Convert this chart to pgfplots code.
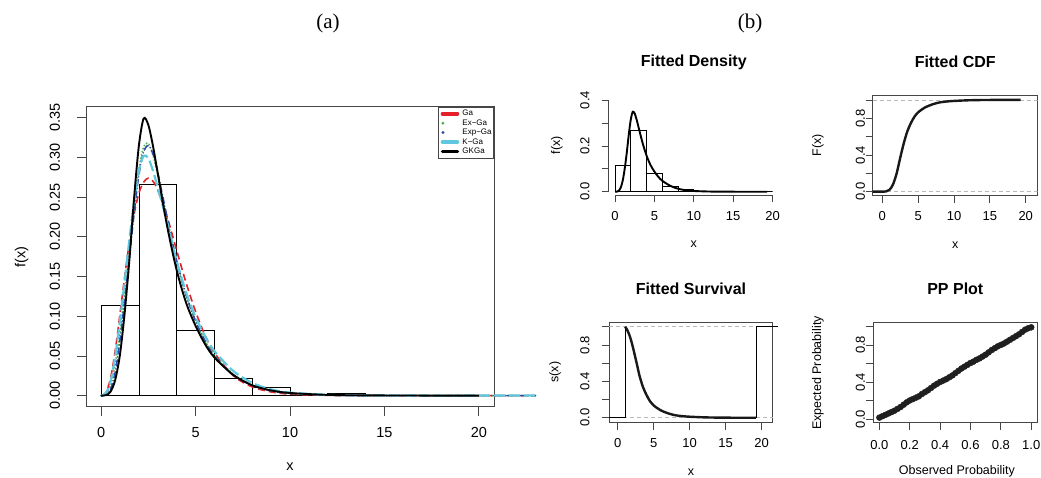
\documentclass[border=0pt]{standalone}
\usepackage{pgfplots}
\usepackage{pgfplotstable}
\pgfplotsset{compat=1.18}
\usepackage{fontspec}
\setmainfont{Liberation Sans}
\newfontfamily\seriffont{Liberation Serif}
\definecolor{cRed}{RGB}{228,32,42}
\definecolor{cGreen}{RGB}{70,178,70}
\definecolor{cBlue}{RGB}{45,75,165}
\definecolor{cCyan}{RGB}{95,200,222}
\definecolor{axgray}{RGB}{70,70,70}
\newcommand\fa{\fontsize{14.5}{17}\selectfont}
\newcommand\fb{\fontsize{13}{15}\selectfont}
\newcommand\fl{\fontsize{12.5}{15}\selectfont}
\newcommand\ft{\fontsize{16}{19}\selectfont\bfseries}

\pgfplotstableread{
x y
0 0.1143
2 0.2665
4 0.0818
6 0.0223
8 0.0105
10 0.0000
12 0.0034
14 0.0000
16 0.0000
18 0.0000
20 0.0000
}\histdata

\pgfplotstableread{
x ga exga expga kga gkga
0 0 0 0 0 0
0.25 0.0035 0.002 0.001 0.003 0.0005
0.5 0.022 0.013 0.008 0.018 0.005
0.75 0.057 0.040 0.030 0.050 0.020
1 0.103 0.080 0.070 0.095 0.052
1.25 0.150 0.130 0.120 0.145 0.105
1.5 0.194 0.182 0.175 0.197 0.172
1.75 0.229 0.236 0.230 0.245 0.250
2 0.255 0.285 0.278 0.283 0.315
2.25 0.269 0.313 0.307 0.302 0.349
2.5 0.274 0.318 0.315 0.299 0.341
2.75 0.270 0.303 0.304 0.283 0.314
3 0.259 0.278 0.281 0.262 0.280
3.5 0.225 0.220 0.224 0.218 0.213
4 0.183 0.168 0.170 0.170 0.158
4.5 0.142 0.126 0.127 0.130 0.117
5 0.106 0.094 0.094 0.099 0.088
5.5 0.076 0.069 0.069 0.075 0.065
6 0.054 0.051 0.050 0.056 0.048
7 0.025 0.027 0.026 0.031 0.026
8 0.011 0.013 0.013 0.016 0.013
9 0.0046 0.0062 0.006 0.0078 0.0065
10 0.0018 0.0029 0.0028 0.0038 0.0033
12 0.0003 0.0006 0.0006 0.0009 0.0009
14 0.00004 0.0001 0.0001 0.0002 0.0003
17 0 0 0 0 0.00005
19.3 0 0 0 0 0
20 0 0 0 0 0
23 0 0 0 0 0
}\densdata

\pgfplotstableread{
x F
-1.34 0
0 0
0.5 0.002
1 0.02
1.5 0.08
2 0.20
2.5 0.37
3 0.53
3.5 0.66
4 0.75
4.5 0.82
5 0.865
5.5 0.895
6 0.92
7 0.952
8 0.973
9 0.983
10 0.989
12 0.996
14 0.999
16 1.0
19.3 1.0
}\cdfdata

\pgfplotstableread{
x S
1.02 1.0
1.25 0.975
1.5 0.934
1.75 0.88
2 0.81
2.25 0.73
2.5 0.645
2.75 0.56
3 0.47
3.5 0.34
4 0.25
4.5 0.18
5 0.135
5.5 0.105
6 0.08
7 0.048
8 0.027
9 0.017
10 0.011
12 0.004
14 0.001
16 0.0
19.2 0.0
}\survdata

\pgfplotstableread{
x y
0.00 0.015
0.02 0.03
0.04 0.045
0.06 0.06
0.08 0.075
0.10 0.09
0.12 0.11
0.14 0.13
0.16 0.155
0.18 0.18
0.20 0.20
0.22 0.215
0.24 0.23
0.26 0.245
0.28 0.27
0.30 0.29
0.32 0.31
0.34 0.335
0.36 0.36
0.38 0.38
0.40 0.40
0.42 0.415
0.44 0.43
0.46 0.45
0.48 0.47
0.50 0.495
0.52 0.52
0.54 0.545
0.56 0.565
0.58 0.585
0.60 0.605
0.62 0.62
0.64 0.64
0.66 0.655
0.68 0.675
0.70 0.695
0.72 0.72
0.74 0.745
0.76 0.765
0.78 0.785
0.80 0.80
0.82 0.815
0.84 0.835
0.86 0.855
0.88 0.875
0.90 0.895
0.92 0.915
0.94 0.94
0.96 0.965
0.98 0.98
1.00 0.99
}\ppdata

\pgfplotsset{
  rstyle/.style={
    scale only axis,
    axis line style={axgray, line width=0.8pt},
    tick style={axgray, line width=0.8pt},
    tick align=outside,
    major tick length=8pt,
    tick pos=left,
    /pgf/number format/assume math mode=true,
    xlabel style={anchor=center},
    ylabel style={anchor=center},
    title style={anchor=center, font=\ft},
  },
  smallstyle/.style={
    rstyle,
    ticklabel style={font=\fb},
    label style={font=\fl},
    major tick length=7pt,
  },
}

\begin{document}
\begin{tikzpicture}
\useasboundingbox (0,0) rectangle (1041pt,-477pt);
\node[font=\seriffont\fontsize{21}{24}\selectfont] at (328pt,-23pt) {(a)};
\node[font=\seriffont\fontsize{21}{24}\selectfont] at (750pt,-23pt) {(b)};

% ---------- panel (a)
\begin{axis}[rstyle,
  at={(86pt,-406.7pt)}, anchor=south west,
  width=408pt, height=300pt,
  xmin=-0.8, xmax=20.8, ymin=-0.014, ymax=0.364,
  clip=false,
  major tick length=9pt,
  xtick={0,5,10,15,20},
  ytick={0,0.05,0.1,0.15,0.2,0.25,0.3,0.35},
  yticklabels={0.00,0.05,0.10,0.15,0.20,0.25,0.30,0.35},
  ticklabel style={font=\fa},
  xticklabel style={anchor=center, yshift=-17.3pt},
  yticklabel style={xshift=-22pt, rotate=90, anchor=center},
  xlabel={x}, ylabel={f(x)},
  label style={font=\fa},
  xlabel style={at={(axis description cs:0.5,-0.201)}},
  ylabel style={at={(axis description cs:-0.1576,0.5)}},
  legend style={at={(rel axis cs:1,1)}, anchor=north east, draw=axgray, line width=0.8pt,
    font=\fontsize{8}{8}\selectfont, inner xsep=2pt, inner ysep=2.5pt,
    row sep=1.1pt, /tikz/column sep=3pt,
    nodes={inner sep=0pt, text height=6.2pt, text depth=2.1pt}},
  legend cell align=left,
]
\addplot[ybar interval, draw=black, fill=none, line width=0.7pt, forget plot] table {\histdata};
\addplot[cRed, line width=1.6pt, dash pattern=on 7pt off 4pt, smooth,
  legend image code/.code={\path[draw=none] (0pt,0pt) -- (19pt,0pt); \draw[solid, cRed, line width=3.5pt, line cap=round] (2pt,0pt) -- (17pt,0pt);}]
  table[x=x, y=ga] {\densdata};
\addlegendentry{Ga}
\addplot[cGreen, line width=2pt, dash pattern=on 0.1pt off 3.2pt, line cap=round, smooth,
  legend image code/.code={\path[draw=none] (0pt,0pt) -- (19pt,0pt); \fill[draw=none, solid, cGreen] (2.5pt,0pt) circle (1.6pt);}]
  table[x=x, y=exga] {\densdata};
\addlegendentry{Ex−Ga}
\addplot[cBlue, line width=1.6pt, dash pattern=on 6pt off 3pt on 0.1pt off 3pt, line cap=round, smooth,
  legend image code/.code={\path[draw=none] (0pt,0pt) -- (19pt,0pt); \fill[draw=none, solid, cBlue] (2.5pt,0pt) circle (1.6pt);}]
  table[x=x, y=expga] {\densdata};
\addlegendentry{Exp−Ga}
\addplot[cCyan, line width=2.2pt, dash pattern=on 11pt off 4pt, smooth,
  legend image code/.code={\path[draw=none] (0pt,0pt) -- (19pt,0pt); \draw[solid, cCyan, line width=3.5pt, line cap=round] (2pt,0pt) -- (17pt,0pt);}]
  table[x=x, y=kga] {\densdata};
\addlegendentry{K−Ga}
\addplot[black, line width=1.9pt, smooth, restrict x to domain=0:20,
  legend image code/.code={\path[draw=none] (0pt,0pt) -- (19pt,0pt); \draw[solid, black, line width=3.5pt, line cap=round] (2pt,0pt) -- (17pt,0pt);}]
  table[x=x, y=gkga] {\densdata};
\addlegendentry{GKGa}
\end{axis}

% ---------- Fitted Density
\begin{axis}[smallstyle,
  at={(608.7pt,-195.4pt)}, anchor=south west,
  width=170.2pt, height=99pt,
  xmin=-0.8, xmax=20.8, ymin=-0.016, ymax=0.416,
  clip=false, axis line style={draw=none},
  xtick={0,5,10,15,20},
  ytick={0,0.1,0.2,0.3,0.4}, yticklabels={0.0,,0.2,,0.4},
  xticklabel style={anchor=center, yshift=-13.6pt},
  yticklabel style={xshift=-16.7pt, rotate=90, anchor=center},
  title={Fitted Density}, title style={at={(axis description cs:0.5,1.287)}},
  xlabel={x}, ylabel={f(x)},
  xlabel style={at={(axis description cs:0.5,-0.491)}},
  ylabel style={at={(axis description cs:-0.304,0.509)}},
]
\addplot[axgray, line width=0.8pt] coordinates {(0,-0.016) (20,-0.016)};
\addplot[axgray, line width=0.8pt] coordinates {(-0.8,0) (-0.8,0.4)};
\addplot[ybar interval, draw=black, fill=none, line width=0.7pt] table {\histdata};
\addplot[black, line width=1.9pt, smooth, restrict x to domain=0:19.3] table[x=x, y=gkga] {\densdata};
\end{axis}

% ---------- Fitted CDF
\begin{axis}[smallstyle,
  at={(872.7pt,-195.7pt)}, anchor=south west,
  width=165pt, height=100pt,
  xmin=-1.34, xmax=21.67, ymin=-0.044, ymax=1.046,
  xtick={0,5,10,15,20},
  ytick={0,0.2,0.4,0.6,0.8,1}, yticklabels={0.0,,0.4,,0.8,},
  xticklabel style={anchor=center, yshift=-13pt},
  yticklabel style={xshift=-5.2pt, rotate=90, anchor=center},
  title={Fitted CDF}, title style={at={(axis description cs:0.5,1.277)}},
  xlabel={x}, ylabel={F(x)},
  xlabel style={at={(axis description cs:0.5,-0.493)}},
  ylabel style={at={(axis description cs:-0.332,0.507)}},
]
\addplot[gray!55, line width=0.7pt, dash pattern=on 4pt off 3pt] coordinates {(-1.34,0) (21.67,0)};
\addplot[gray!55, line width=0.7pt, dash pattern=on 4pt off 3pt] coordinates {(-1.34,1) (21.67,1)};
\addplot[black!90, line width=2.4pt, smooth] table[x=x, y=F] {\cdfdata};
\end{axis}

% ---------- Fitted Survival
\begin{axis}[smallstyle,
  at={(609.3pt,-422.7pt)}, anchor=south west,
  width=163.4pt, height=100pt,
  xmin=-1.167, xmax=21.53, ymin=-0.055, ymax=1.045,
  clip=false,
  xtick={0,5,10,15,20},
  ytick={0,0.2,0.4,0.6,0.8,1}, yticklabels={0.0,,0.4,,0.8,},
  xticklabel style={anchor=center, yshift=-13.6pt},
  yticklabel style={xshift=-17.3pt, rotate=90, anchor=center},
  title={Fitted Survival}, title style={at={(axis description cs:0.5,1.277)}},
  xlabel={x}, ylabel={s(x)},
  xlabel style={at={(axis description cs:0.5,-0.49)}},
  ylabel style={at={(axis description cs:-0.332,0.507)}},
]
\addplot[gray!55, line width=0.7pt, dash pattern=on 4pt off 3pt] coordinates {(-1.167,0) (21.53,0)};
\addplot[gray!55, line width=0.7pt, dash pattern=on 4pt off 3pt] coordinates {(-1.167,1) (21.53,1)};
\addplot[black, line width=0.8pt] coordinates {(-1.167,0) (1.02,0) (1.02,1)};
\addplot[black!90, line width=2.4pt, smooth] table[x=x, y=S] {\survdata};
\addplot[black, line width=0.8pt] coordinates {(19.2,0) (19.2,1) (22.2,1)};
\end{axis}

% ---------- PP Plot
\begin{axis}[smallstyle,
  at={(873.3pt,-422.7pt)}, anchor=south west,
  width=164pt, height=100pt,
  xmin=-0.04, xmax=1.04, ymin=-0.04, ymax=1.04,
  xtick={0,0.2,0.4,0.6,0.8,1}, xticklabels={0.0,0.2,0.4,0.6,0.8,1.0},
  ytick={0,0.2,0.4,0.6,0.8,1}, yticklabels={0.0,,0.4,,0.8,},
  xticklabel style={anchor=center, yshift=-15.3pt},
  yticklabel style={xshift=-5.8pt, rotate=90, anchor=center},
  title={PP Plot}, title style={at={(axis description cs:0.5,1.277)}},
  xlabel={Observed Probability}, ylabel={Expected Probability},
  xlabel style={at={(axis description cs:0.51,-0.49)}},
  ylabel style={at={(axis description cs:-0.338,0.497)}},
]
\addplot[only marks, mark=*, mark size=3pt, black!88, mark options={draw=black!88, fill=black!88}] table[x=x, y=y] {\ppdata};
\end{axis}
\end{tikzpicture}
\end{document}
